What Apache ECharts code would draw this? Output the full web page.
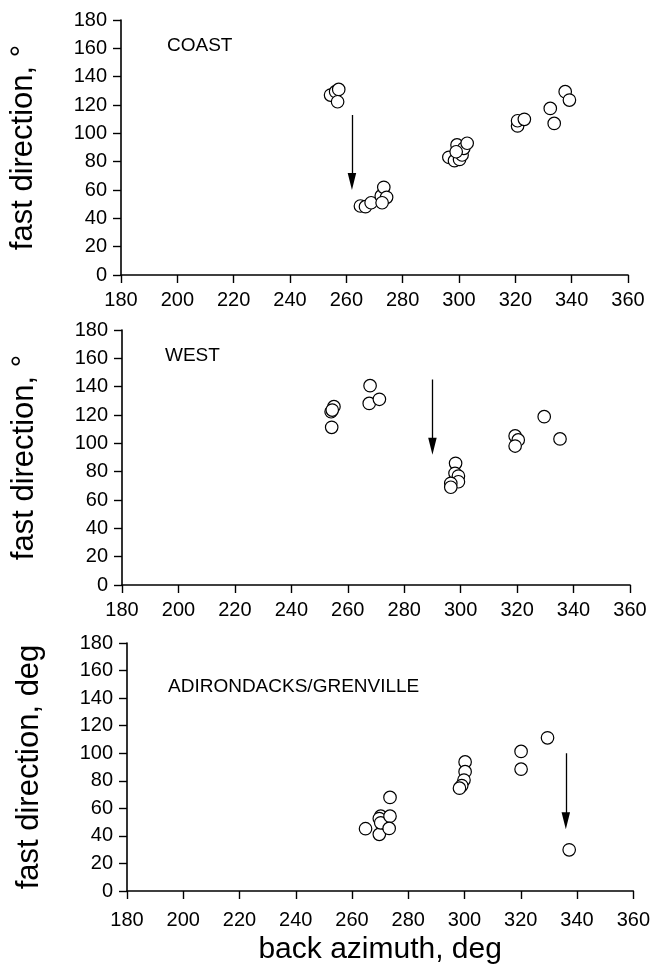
<!DOCTYPE html>
<html>
<head>
<meta charset="utf-8">
<script src="https://cdn.jsdelivr.net/npm/echarts@6/dist/echarts.min.js"></script>
<style>
  html, body { margin: 0; padding: 0; background: #fff; }
  #main { width: 653px; height: 966px; }
</style>
</head>
<body>
<div id="main"></div>
<script>
// values (back azimuth vs fast direction, degrees)
const coastAz = [254.4, 256.2, 257.3, 256.9, 265.0, 266.8, 268.8, 272.4, 273.3, 274.3, 272.7,
  296.4, 298.4, 300.2, 301.1, 299.3, 301.7, 302.9, 299.0, 320.8, 320.8, 323.2, 332.4, 333.8, 337.7, 339.2];
const coastFast = [127, 129.4, 131, 122.3, 48.7, 48.2, 51, 55.8, 61.9, 54.8, 51,
  83.1, 80.7, 81.6, 84.7, 91.8, 89.4, 93, 87, 105.2, 108.9, 109.9, 117.6, 107, 129.4, 123.5];

const westAz = [254.3, 254.1, 255.1, 254.5, 267.9, 267.6, 271.2, 298.2, 298.0, 299.2, 299.2,
  296.5, 296.5, 319.3, 320.4, 319.3, 329.6, 335.2];
const westFast = [111.3, 122.3, 125.9, 123.5, 140.7, 128.2, 131.1, 85.9, 78.8, 76.9, 72.9,
  71.8, 69.0, 105.2, 102.4, 98.1, 118.8, 103.1];

const adkAz = [264.8, 269.7, 270.2, 269.7, 270.2, 273.5, 273.2, 273.5, 300.2, 300.2, 299.8,
  299.0, 298.2, 320.1, 320.1, 329.5, 337.2];
const adkFast = [45.2, 41.1, 54.3, 52.6, 49.5, 54.3, 45.4, 67.9, 93.7, 86.6, 80.5,
  76.5, 74.6, 101.3, 88.4, 111.2, 29.9];

// arrows: [start, end] in data units (end = centre of the arrowhead)
const coastArrow = [[262, 113], [262, 66]];
const westArrow = [[290, 145], [290, 98]];
const adkArrow = [[336, 100], [336, 51]];

const panelNames = ["COAST", "WEST", "ADIRONDACKS/GRENVILLE"];
const yNames = ["fast direction, \u00b0", "fast direction, \u00b0", "fast direction, deg"];
const xName = "back azimuth, deg";

const font = "'Liberation Sans', Arial, Helvetica, sans-serif";

const zip = (a, b) => a.map((v, i) => [v, b[i]]);

const grids = [
  { left: 120, width: 508, top: 20, height: 255 },
  { left: 122, width: 508, top: 330, height: 255 },
  { left: 127, width: 511, top: 643, height: 251 },
];

const axisLine = { lineStyle: { color: "#000", width: 1.6 } };
const axisTick = { length: 8, lineStyle: { color: "#000", width: 1.4 } };

const xAxes = grids.map((g, i) => ({
  type: "value",
  gridIndex: i,
  min: 180, max: 360, interval: 20,
  axisLine, axisTick,
  splitLine: { show: false },
  axisLabel: { color: "#000", fontSize: 20, fontFamily: font, margin: i === 2 ? 19 : 15 },
  name: i === 2 ? xName : "",
  nameLocation: "middle",
  nameGap: 44,
  nameTextStyle: { color: "#000", fontSize: 30, fontFamily: font },
}));

const yAxes = grids.map((g, i) => ({
  type: "value",
  gridIndex: i,
  min: 0, max: 180, interval: 20,
  axisLine, axisTick,
  splitLine: { show: false },
  axisLabel: { color: "#000", fontSize: 20, fontFamily: font, margin: 14 },
  name: yNames[i],
  nameLocation: "middle",
  nameGap: 82,
  nameTextStyle: { color: "#000", fontSize: 31, fontFamily: font },
}));

const titles = [
  { text: panelNames[0], left: 167, top: 36 },
  { text: panelNames[1], left: 165, top: 346 },
  { text: panelNames[2], left: 168, top: 677 },
].map(t => ({ ...t, padding: 0, textStyle: { color: "#000", fontSize: 19, fontWeight: "normal", fontFamily: font } }));

const pts = [zip(coastAz, coastFast), zip(westAz, westFast), zip(adkAz, adkFast)];
const arrows = [coastArrow, westArrow, adkArrow];

// narrow arrowhead: the two empty sub-paths widen the box so the triangle keeps its slim shape
const arrowHead = "path://M0,0L4,16L-4,16Z M-8,16L-8,16 M8,16L8,16";

const series = [];
pts.forEach((d, i) => {
  series.push({
    type: "scatter",
    xAxisIndex: i, yAxisIndex: i,
    data: d,
    symbol: "circle",
    symbolSize: 12.5,
    itemStyle: { color: "#fff", borderColor: "#000", borderWidth: 1.2, opacity: 1 },
    silent: true,
  });
  series.push({
    type: "lines",
    coordinateSystem: "cartesian2d",
    xAxisIndex: i, yAxisIndex: i,
    data: [{ coords: arrows[i] }],
    symbol: ["none", arrowHead],
    symbolSize: 17,
    lineStyle: { color: "#000", width: 1.3, opacity: 1 },
    silent: true,
  });
});

const chart = echarts.init(document.getElementById("main"));
chart.setOption({
  backgroundColor: "#fff",
  animation: false,
  title: titles,
  grid: grids,
  xAxis: xAxes,
  yAxis: yAxes,
  series,
});
</script>
</body>
</html>
